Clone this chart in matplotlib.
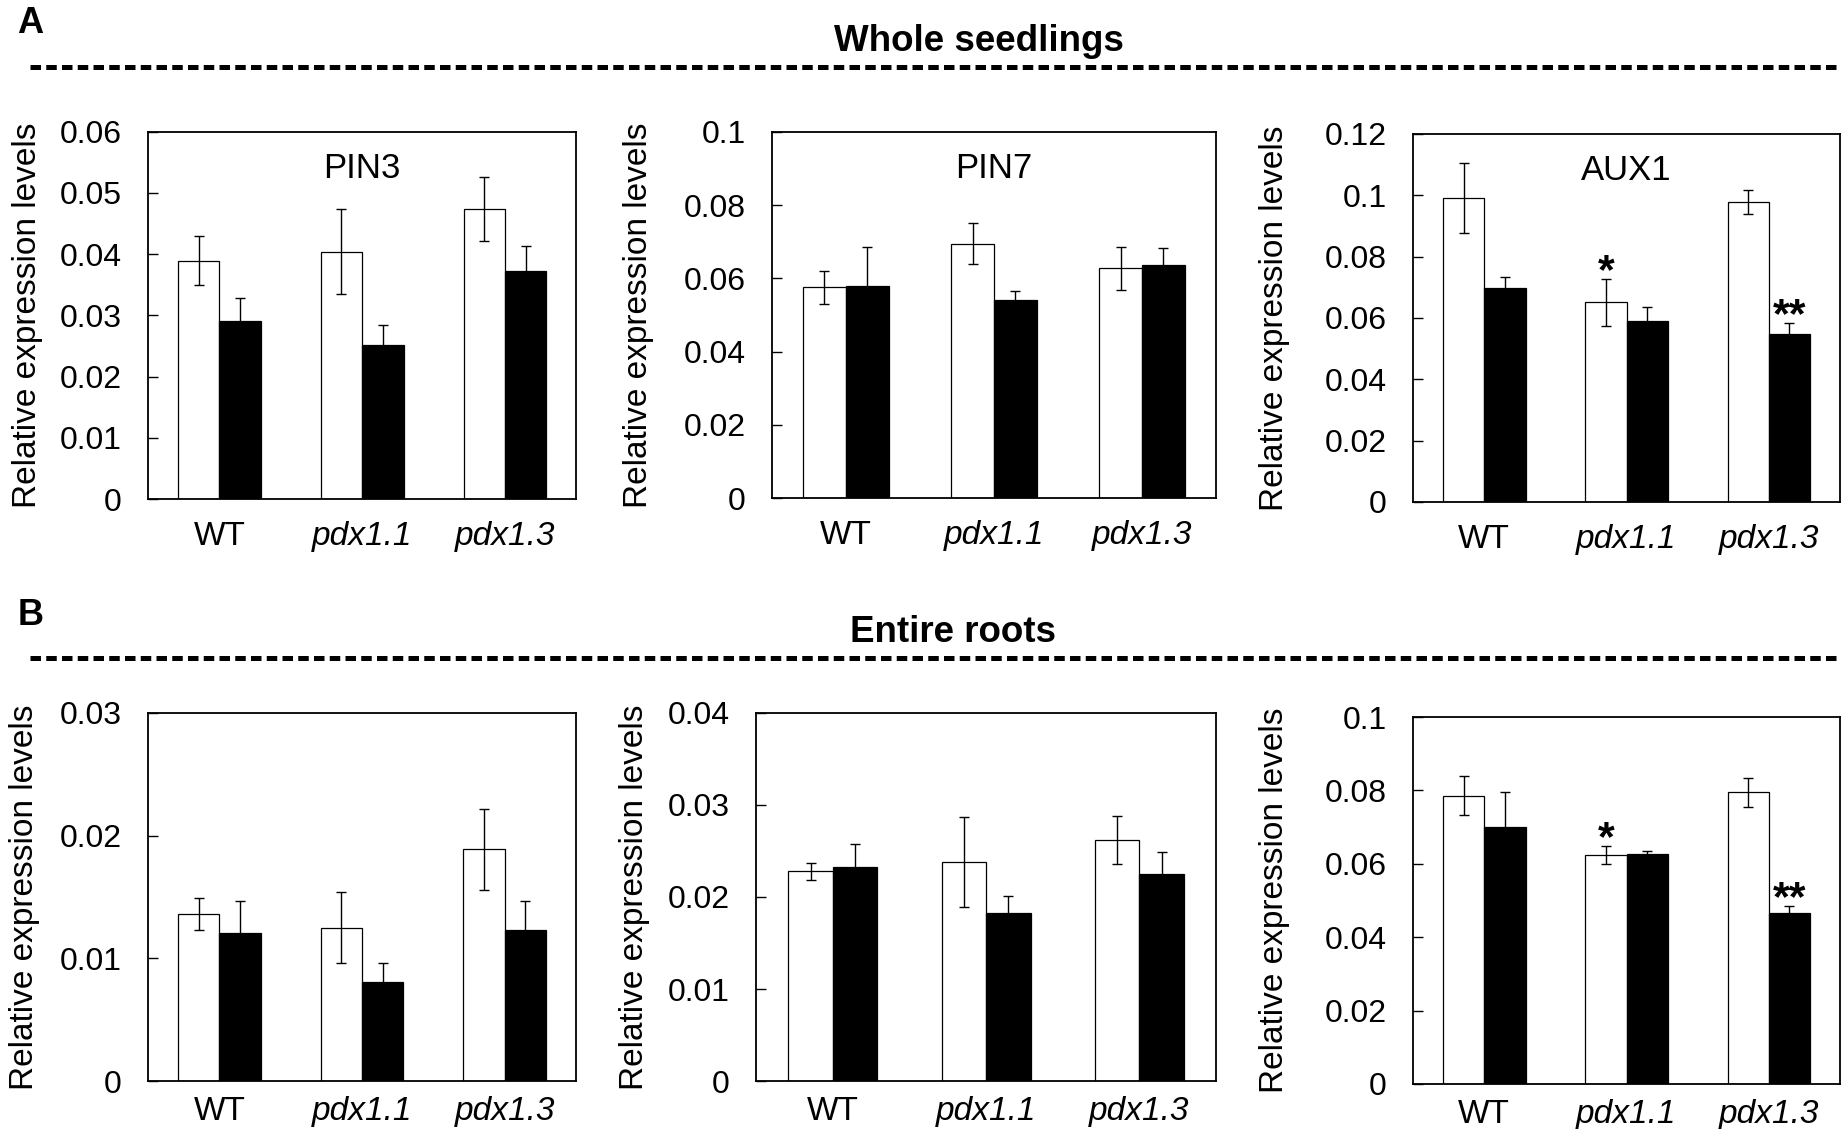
import numpy as np
import matplotlib
matplotlib.use('Agg')
import matplotlib.pyplot as plt
from matplotlib.lines import Line2D

plt.rcParams['font.family'] = ['Liberation Sans', 'DejaVu Sans']

# genotypes on the x axis
groups = ['WT', 'pdx1.1', 'pdx1.3']

# A - whole seedlings (open = white bars, filled = black bars)
pin3_open = [0.0389, 0.0404, 0.0474]
pin3_open_err = [0.0040, 0.0069, 0.0052]
pin3_filled = [0.0291, 0.0251, 0.0372]
pin3_filled_err = [0.0037, 0.0033, 0.0042]

pin7_open = [0.0576, 0.0695, 0.0628]
pin7_open_err = [0.0045, 0.0055, 0.0059]
pin7_filled = [0.0578, 0.0542, 0.0637]
pin7_filled_err = [0.0109, 0.0023, 0.0046]

aux1_open = [0.0992, 0.0651, 0.0979]
aux1_open_err = [0.0114, 0.0076, 0.0039]
aux1_filled = [0.0698, 0.0590, 0.0546]
aux1_filled_err = [0.0036, 0.0044, 0.0037]

# B - entire roots
root_pin3_open = [0.0136, 0.0125, 0.0189]
root_pin3_open_err = [0.0013, 0.0029, 0.0033]
root_pin3_filled = [0.0121, 0.0081, 0.0123]
root_pin3_filled_err = [0.0026, 0.0015, 0.0024]

root_pin7_open = [0.0228, 0.0238, 0.0262]
root_pin7_open_err = [0.0009, 0.0049, 0.0026]
root_pin7_filled = [0.0233, 0.0183, 0.0225]
root_pin7_filled_err = [0.0025, 0.0018, 0.0024]

root_aux1_open = [0.0786, 0.0624, 0.0795]
root_aux1_open_err = [0.0053, 0.0024, 0.0039]
root_aux1_filled = [0.0701, 0.0626, 0.0465]
root_aux1_filled_err = [0.0094, 0.0010, 0.0020]

# significance marks
aux1_open_stars = ['', '*', '']
aux1_filled_stars = ['', '', '**']
no_stars = ['', '', '']

fig = plt.figure(figsize=(18.45, 11.29), dpi=100)

# panel layout: [left, bottom, width, height], ylabel x (axes coords), xtick pad
panels = [
    dict(rect=[0.0802, 0.558, 0.2322, 0.3253], title='PIN3', ymax=0.06, step=0.01,
         o=pin3_open, oe=pin3_open_err, f=pin3_filled, fe=pin3_filled_err,
         os=no_stars, fs=no_stars, labx=-0.244, xpad=16),
    dict(rect=[0.4184, 0.5589, 0.2407, 0.3242], title='PIN7', ymax=0.1, step=0.02,
         o=pin7_open, oe=pin7_open_err, f=pin7_filled, fe=pin7_filled_err,
         os=no_stars, fs=no_stars, labx=-0.266, xpad=16),
    dict(rect=[0.7659, 0.5554, 0.2314, 0.326], title='AUX1', ymax=0.12, step=0.02,
         o=aux1_open, oe=aux1_open_err, f=aux1_filled, fe=aux1_filled_err,
         os=aux1_open_stars, fs=aux1_filled_stars, labx=-0.288, xpad=16),
    dict(rect=[0.0802, 0.0425, 0.232, 0.326], title='', ymax=0.03, step=0.01,
         o=root_pin3_open, oe=root_pin3_open_err, f=root_pin3_filled, fe=root_pin3_filled_err,
         os=no_stars, fs=no_stars, labx=-0.253, xpad=11),
    dict(rect=[0.4098, 0.0425, 0.2493, 0.326], title='', ymax=0.04, step=0.01,
         o=root_pin7_open, oe=root_pin7_open_err, f=root_pin7_filled, fe=root_pin7_filled_err,
         os=no_stars, fs=no_stars, labx=-0.231, xpad=11),
    dict(rect=[0.7659, 0.0399, 0.2314, 0.325], title='', ymax=0.1, step=0.02,
         o=root_aux1_open, oe=root_aux1_open_err, f=root_aux1_filled, fe=root_aux1_filled_err,
         os=aux1_open_stars, fs=aux1_filled_stars, labx=-0.288, xpad=11),
]

x = np.arange(len(groups))
w = 0.29

def fmt(v, pos):
    return '0' if abs(v) < 1e-12 else f'{round(v, 4):g}'

for p in panels:
    ax = fig.add_axes(p['rect'])
    ax.bar(x - w/2, p['o'], w, color='white', edgecolor='black', linewidth=0.9, zorder=2)
    ax.bar(x + w/2, p['f'], w, color='black', edgecolor='black', linewidth=0.9, zorder=2)
    ax.errorbar(x - w/2, p['o'], yerr=p['oe'], fmt='none', ecolor='black',
                elinewidth=1.0, capsize=3.5, capthick=1.0, zorder=3)
    ax.errorbar(x + w/2, p['f'], yerr=p['fe'], fmt='none', ecolor='black',
                elinewidth=1.0, capsize=3.5, capthick=1.0, zorder=3)

    # asterisks above the error bars
    for xi, v, e, s in zip(x - w/2, p['o'], p['oe'], p['os']):
        if s:
            ax.annotate(s, (xi, v + e), xytext=(0, -3), textcoords='offset points',
                        ha='center', va='baseline', fontsize=31, fontweight='bold')
    for xi, v, e, s in zip(x + w/2, p['f'], p['fe'], p['fs']):
        if s:
            ax.annotate(s, (xi, v + e), xytext=(0, -3), textcoords='offset points',
                        ha='center', va='baseline', fontsize=31, fontweight='bold')

    ax.set_xlim(-0.5, 2.5)
    ax.set_ylim(0, p['ymax'])
    ax.set_yticks(np.arange(0, p['ymax'] + p['step']/2, p['step']))
    ax.yaxis.set_major_formatter(plt.FuncFormatter(fmt))
    ax.set_xticks(x)
    ax.set_xticklabels(groups)
    for lab in ax.get_xticklabels()[1:]:
        lab.set_fontstyle('italic')
    ax.tick_params(axis='y', direction='in', length=7, width=1.0, pad=19, labelsize=23)
    ax.tick_params(axis='x', length=0, pad=p['xpad'], labelsize=24)
    for sp in ax.spines.values():
        sp.set_linewidth(1.3)

    ax.set_ylabel('Relative expression levels', fontsize=24)
    ax.yaxis.set_label_coords(p['labx'], 0.5)

    if p['title']:
        ax.text(0.5, 0.875, p['title'], transform=ax.transAxes, ha='center',
                va='baseline', fontsize=25)

# section headers
fig.text(17/1845, 1 - 33/1129, 'A', fontsize=26, fontweight='bold', va='baseline', ha='left')
fig.text(18/1845, 1 - 625/1129, 'B', fontsize=26, fontweight='bold', va='baseline', ha='left')
fig.text(979/1845, 1 - 51/1129, 'Whole seedlings', fontsize=26.5, fontweight='bold',
         va='baseline', ha='center')
fig.text(953/1845, 1 - 642/1129, 'Entire roots', fontsize=26.5, fontweight='bold',
         va='baseline', ha='center')

for yy in [67, 658]:
    fig.add_artist(Line2D([30/1845, 1837/1845], [1 - yy/1129, 1 - yy/1129],
                          transform=fig.transFigure, color='black', linewidth=3.6,
                          dashes=(2.1, 1.05)))

plt.savefig('out.png', dpi=100)
